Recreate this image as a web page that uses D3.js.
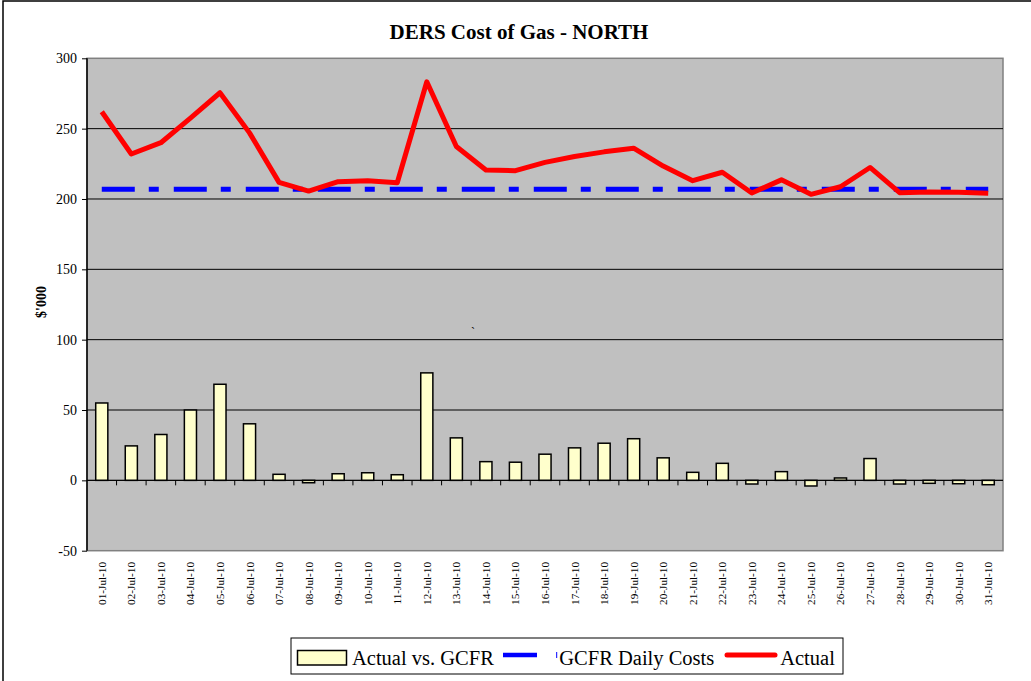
<!DOCTYPE html>
<html lang="en">
  <head>
    <meta charset="utf-8">
    <title>DERS Cost of Gas - NORTH</title>
    <script src="https://d3js.org/d3.v7.min.js"></script>
    <style>
      body { margin: 0; background: #fff; }
    </style>
  </head>
  <body>
    <div id="chart"></div>
    <script type="text/javascript">
      // data
      var days = ["01-Jul-10","02-Jul-10","03-Jul-10","04-Jul-10","05-Jul-10","06-Jul-10","07-Jul-10",
                  "08-Jul-10","09-Jul-10","10-Jul-10","11-Jul-10","12-Jul-10","13-Jul-10","14-Jul-10",
                  "15-Jul-10","16-Jul-10","17-Jul-10","18-Jul-10","19-Jul-10","20-Jul-10","21-Jul-10",
                  "22-Jul-10","23-Jul-10","24-Jul-10","25-Jul-10","26-Jul-10","27-Jul-10","28-Jul-10",
                  "29-Jul-10","30-Jul-10","31-Jul-10"];
      var actualVsGcfr = [55, 24.5, 32.6, 50, 68.3, 40.2, 4.3, -1.7, 4.7, 5.4, 4.0, 76.4, 30.2, 13.3,
                          12.9, 18.6, 23.1, 26.4, 29.6, 16, 5.7, 12.1, -2.6, 6.2, -4, 1.7, 15.5, -2.6,
                          -2.1, -2.4, -3.1];
      var gcfrDaily = [207, 207, 207, 207, 207, 207, 207, 207, 207, 207, 207, 207, 207, 207, 207, 207,
                       207, 207, 207, 207, 207, 207, 207, 207, 207, 207, 207, 207, 207, 207, 207];
      var actual = [262, 232, 240, 257.5, 275.5, 247, 211.8, 205.6, 212.3, 213, 211.5, 283.3, 237.3, 220.6,
                    220.1, 226, 230.2, 233.5, 236.1, 223.4, 213, 219, 204.3, 213.6, 203.3, 208.7, 222.4, 204.5,
                    205, 204.7, 204.1];
      var yTicks = [-50, 0, 50, 100, 150, 200, 250, 300];

      var width = 1031, height = 681,
          plot = { left: 87, right: 1003, top: 58.3, bottom: 550.7 },
          serif = "'Liberation Serif', 'Times New Roman', serif";

      var svg = d3.select("#chart").append("svg")
                  .attr("width", width)
                  .attr("height", height)
                  .style("font-family", serif);

      // outer chart border
      svg.append("rect")
         .attr("x", 3).attr("y", 1)
         .attr("width", 1100).attr("height", 800)
         .attr("fill", "#fff")
         .attr("stroke", "#000").attr("stroke-width", 1.5);

      var x = d3.scaleBand().domain(days).range([plot.left, plot.right]);
      var y = d3.scaleLinear().domain([-50, 300]).range([plot.bottom, plot.top]);

      // plot area
      svg.append("rect")
         .attr("x", plot.left).attr("y", plot.top)
         .attr("width", plot.right - plot.left).attr("height", plot.bottom - plot.top)
         .attr("fill", "#c0c0c0")
         .attr("stroke", "#808080").attr("stroke-width", 1.5);

      // gridlines
      svg.append("g").selectAll("line")
         .data(yTicks.filter(d => d > -50 && d < 300))
         .enter().append("line")
         .attr("x1", plot.left).attr("x2", plot.right)
         .attr("y1", d => y(d)).attr("y2", d => y(d))
         .attr("stroke", "#000").attr("stroke-width", 1);

      // y axis
      var yAxis = d3.axisLeft(y).tickValues(yTicks).tickSize(5).tickPadding(5)
                    .tickFormat(d => String(d));
      var gy = svg.append("g")
                  .attr("transform", `translate(${plot.left},0)`)
                  .call(yAxis);
      gy.attr("font-family", null);
      gy.select(".domain").remove();
      gy.selectAll(".tick line").attr("stroke", "#000");
      gy.selectAll(".tick text").attr("font-size", 14).attr("fill", "#000").style("font-family", serif);
      svg.append("line")
         .attr("x1", plot.left).attr("x2", plot.left)
         .attr("y1", plot.top).attr("y2", plot.bottom)
         .attr("stroke", "#000").attr("stroke-width", 1.5);

      // bars
      var bw = x.bandwidth() * 0.41;
      svg.append("g").selectAll("rect")
         .data(actualVsGcfr)
         .enter().append("rect")
         .attr("x", (d, i) => x(days[i]) + (x.bandwidth() - bw) / 2)
         .attr("y", d => y(Math.max(0, d)))
         .attr("width", bw)
         .attr("height", d => Math.abs(y(d) - y(0)))
         .attr("fill", "#ffffcc")
         .attr("stroke", "#000").attr("stroke-width", 1.5);

      // category axis at zero
      svg.append("line")
         .attr("x1", plot.left).attr("x2", plot.right)
         .attr("y1", y(0)).attr("y2", y(0))
         .attr("stroke", "#000").attr("stroke-width", 1);
      svg.append("g").selectAll("line")
         .data(days.slice(1))
         .enter().append("line")
         .attr("x1", d => x(d)).attr("x2", d => x(d))
         .attr("y1", y(0)).attr("y2", y(0) + 5)
         .attr("stroke", "#000").attr("stroke-width", 1);

      // x labels
      svg.append("g").selectAll("text")
         .data(days)
         .enter().append("text")
         .attr("transform", d => `translate(${x(d) + x.bandwidth() / 2 + 4},562) rotate(-90)`)
         .attr("text-anchor", "end")
         .attr("font-size", 11.2)
         .style("font-family", serif)
         .text(d => d);

      // GCFR daily costs
      var cx = d => x(d) + x.bandwidth() / 2;
      svg.append("path")
         .datum(gcfrDaily)
         .attr("d", d3.line().x((d, i) => cx(days[i])).y(d => y(d)))
         .attr("fill", "none")
         .attr("stroke", "#0000ff").attr("stroke-width", 5)
         .attr("stroke-dasharray", "33,14,10,15");

      // actual
      svg.append("path")
         .datum(actual)
         .attr("d", d3.line().x((d, i) => cx(days[i])).y(d => y(d)))
         .attr("fill", "none")
         .attr("stroke", "#ff0000").attr("stroke-width", 5)
         .attr("stroke-linejoin", "round");

      // stray mark in the plot
      svg.append("text").attr("x", 471).attr("y", 336).attr("font-size", 12)
         .style("font-family", serif).text("`");

      // title
      svg.append("text")
         .attr("x", 519).attr("y", 38.5)
         .attr("text-anchor", "middle")
         .attr("font-size", 21).attr("font-weight", "bold")
         .style("font-family", serif)
         .text("DERS Cost of Gas - NORTH");

      // y title
      svg.append("text")
         .attr("transform", "translate(46,302) rotate(-90)")
         .attr("text-anchor", "middle")
         .attr("font-size", 14).attr("font-weight", "bold")
         .style("font-family", serif)
         .text("$'000");

      // legend
      var lg = svg.append("g");
      lg.append("rect")
        .attr("x", 291).attr("y", 638).attr("width", 552).attr("height", 36)
        .attr("fill", "#fff").attr("stroke", "#000").attr("stroke-width", 1);
      lg.append("rect")
        .attr("x", 297.5).attr("y", 650.5).attr("width", 49).attr("height", 14.5)
        .attr("fill", "#ffffcc").attr("stroke", "#000").attr("stroke-width", 1.5);
      lg.append("text").attr("x", 352).attr("y", 665).attr("font-size", 20.5)
        .style("font-family", serif).text("Actual vs. GCFR");
      lg.append("line")
        .attr("x1", 503).attr("x2", 537).attr("y1", 655).attr("y2", 655)
        .attr("stroke", "#0000ff").attr("stroke-width", 4.5);
      lg.append("line")
        .attr("x1", 556.7).attr("x2", 556.7).attr("y1", 652).attr("y2", 658)
        .attr("stroke", "#0000ff").attr("stroke-width", 1);
      lg.append("text").attr("x", 559.3).attr("y", 665).attr("font-size", 20.5)
        .style("font-family", serif).text("GCFR Daily Costs");
      lg.append("line")
        .attr("x1", 727).attr("x2", 775).attr("y1", 655).attr("y2", 655)
        .attr("stroke", "#ff0000").attr("stroke-width", 5).attr("stroke-linecap", "round");
      lg.append("text").attr("x", 780.2).attr("y", 665).attr("font-size", 20.5)
        .style("font-family", serif).text("Actual");
    </script>
  </body>
</html>
